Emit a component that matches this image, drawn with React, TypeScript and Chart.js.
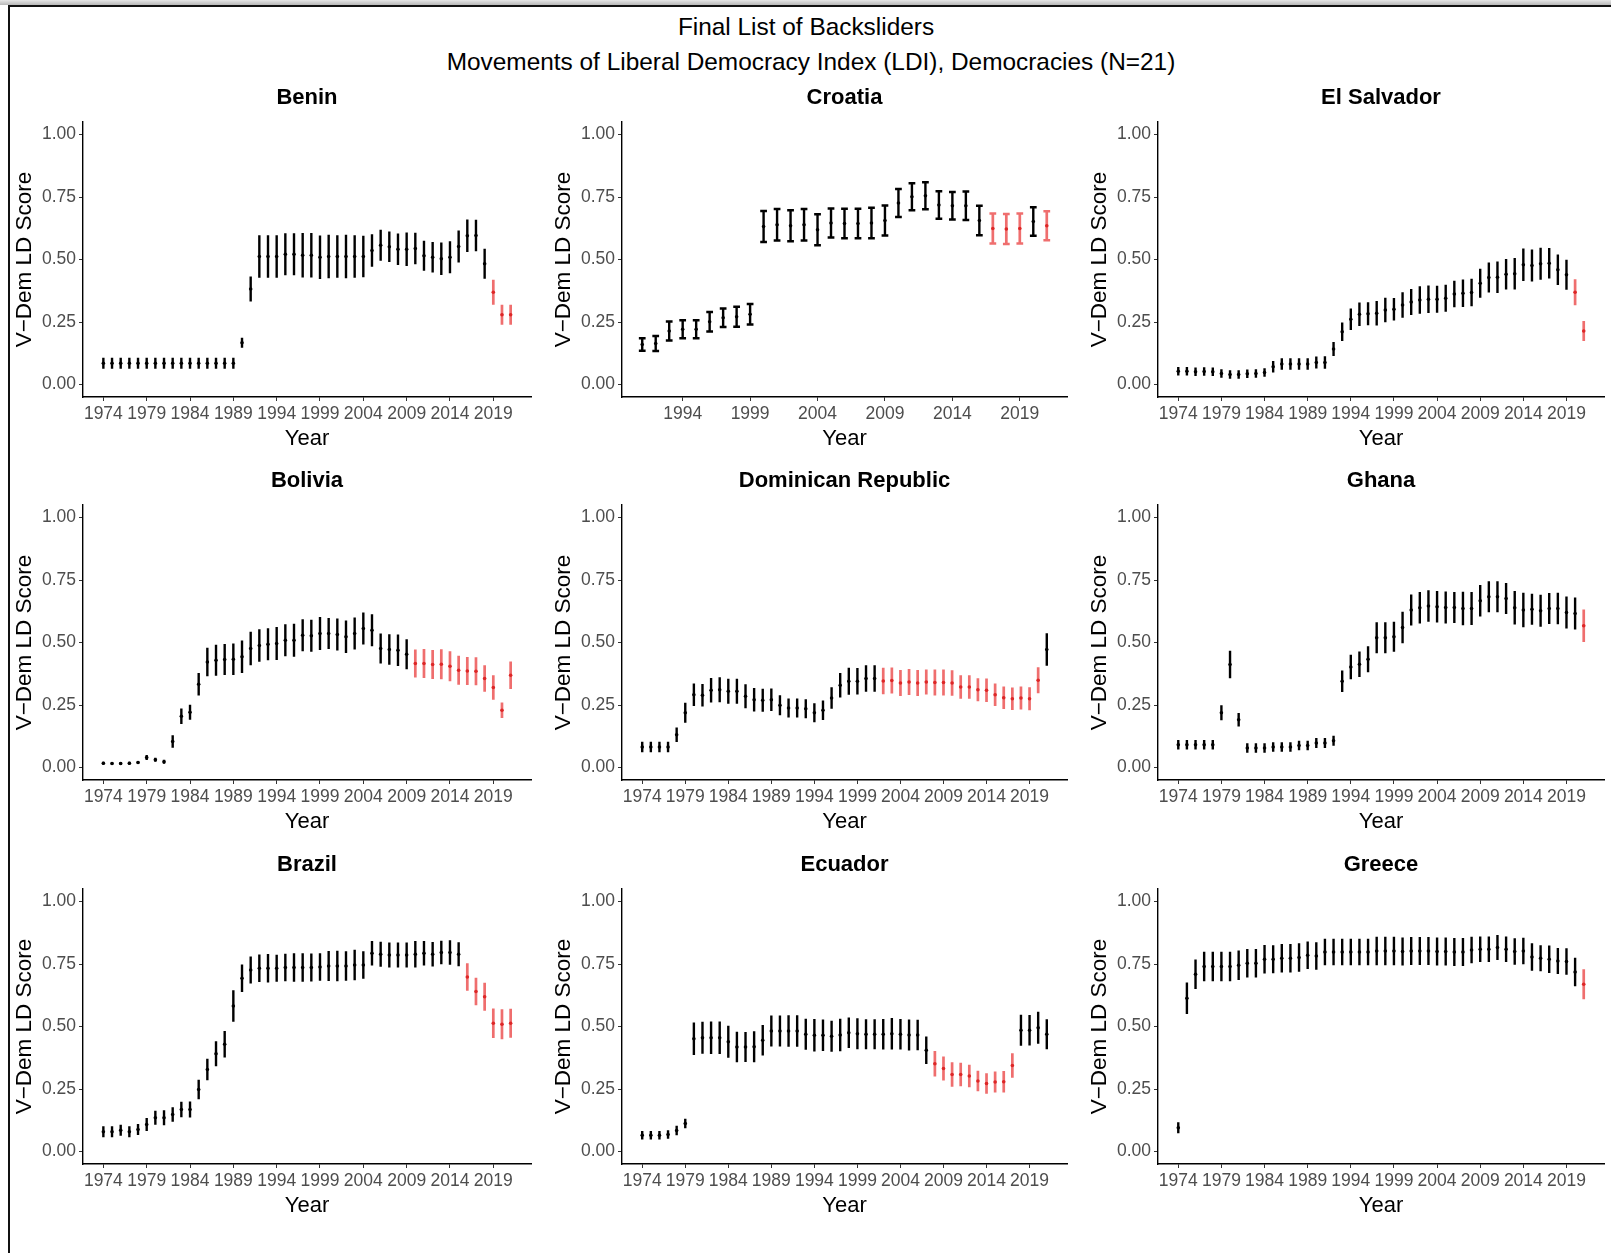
import React, { useEffect, useRef } from "react";
import { Chart, registerables } from "chart.js";
Chart.register(...registerables);

const FONT = "'Liberation Sans', Arial, Helvetica, sans-serif";

// ---- tick labels ----
const yearTicksFull = [1974, 1979, 1984, 1989, 1994, 1999, 2004, 2009, 2014, 2019];
const yearTicksCroatia = [1994, 1999, 2004, 2009, 2014, 2019];
const scoreTicks = [0, 0.25, 0.5, 0.75, 1.0];

// ---- data (LDI point estimate and half-width of interval) ----
const beninStart = 1974;
const beninMid = [0.085, 0.085, 0.085, 0.085, 0.085, 0.085, 0.085, 0.085, 0.085, 0.085, 0.085, 0.085, 0.085, 0.085, 0.085, 0.085,
  0.167, 0.382, 0.512, 0.512, 0.512, 0.521, 0.521, 0.517, 0.517, 0.509, 0.512, 0.512, 0.512, 0.512, 0.512,
  0.536, 0.557, 0.551, 0.541, 0.541, 0.544, 0.515, 0.509, 0.503, 0.509, 0.552, 0.595, 0.596, 0.483, 0.369, 0.279, 0.279];
const beninErr = [0.022, 0.022, 0.022, 0.022, 0.022, 0.022, 0.022, 0.022, 0.022, 0.022, 0.022, 0.022, 0.022, 0.022, 0.022, 0.022,
  0.02, 0.05, 0.085, 0.085, 0.085, 0.084, 0.084, 0.089, 0.089, 0.087, 0.087, 0.085, 0.087, 0.085, 0.083,
  0.065, 0.062, 0.061, 0.063, 0.067, 0.063, 0.06, 0.061, 0.065, 0.064, 0.064, 0.065, 0.063, 0.06, 0.05, 0.04, 0.04];
const beninRed = [2019, 2020, 2021];

const croatiaStart = 1991;
const croatiaMid = [0.160, 0.164, 0.214, 0.221, 0.221, 0.251, 0.267, 0.271, 0.281,
  0.632, 0.639, 0.635, 0.639, 0.619, 0.646, 0.644, 0.644, 0.646, 0.656,
  0.726, 0.751, 0.755, 0.718, 0.715, 0.715, 0.656, 0.624, 0.622, 0.624, 0.652, 0.635];
const croatiaErr = [0.025, 0.03, 0.038, 0.036, 0.036, 0.039, 0.037, 0.04, 0.041,
  0.062, 0.063, 0.062, 0.063, 0.062, 0.058, 0.059, 0.059, 0.061, 0.06,
  0.056, 0.054, 0.054, 0.055, 0.055, 0.057, 0.059, 0.06, 0.06, 0.06, 0.057, 0.058];
const croatiaRed = [2017, 2018, 2019, 2021];

const salvadorStart = 1974;
const salvadorMid = [0.053, 0.053, 0.051, 0.052, 0.051, 0.044, 0.04, 0.04, 0.043, 0.044,
  0.048, 0.071, 0.082, 0.082, 0.082, 0.082, 0.088, 0.088, 0.142, 0.211,
  0.261, 0.281, 0.283, 0.285, 0.298, 0.301, 0.318, 0.33, 0.338, 0.341,
  0.341, 0.345, 0.362, 0.365, 0.368, 0.405, 0.428, 0.429, 0.441, 0.443,
  0.479, 0.476, 0.483, 0.485, 0.459, 0.439, 0.369, 0.214];
const salvadorErr = [0.017, 0.017, 0.017, 0.017, 0.017, 0.017, 0.017, 0.017, 0.017, 0.017,
  0.017, 0.023, 0.023, 0.023, 0.023, 0.023, 0.024, 0.025, 0.028, 0.037,
  0.043, 0.047, 0.046, 0.049, 0.049, 0.045, 0.051, 0.052, 0.055, 0.055,
  0.054, 0.054, 0.053, 0.055, 0.055, 0.058, 0.06, 0.063, 0.061, 0.063,
  0.065, 0.064, 0.064, 0.061, 0.061, 0.06, 0.052, 0.04];
const salvadorRed = [2020, 2021];

const boliviaStart = 1974;
const boliviaMid = [0.017, 0.016, 0.016, 0.017, 0.02, 0.04, 0.031, 0.023, 0.104, 0.205,
  0.221, 0.333, 0.422, 0.429, 0.432, 0.433, 0.443, 0.476, 0.488, 0.493,
  0.496, 0.509, 0.509, 0.529, 0.527, 0.536, 0.536, 0.532, 0.523, 0.536,
  0.556, 0.549, 0.476, 0.472, 0.469, 0.453, 0.416, 0.416, 0.412, 0.413,
  0.405, 0.389, 0.386, 0.385, 0.356, 0.32, 0.229, 0.369];
const boliviaErr = [0.006, 0.006, 0.006, 0.006, 0.006, 0.01, 0.008, 0.008, 0.025, 0.031,
  0.03, 0.045, 0.057, 0.062, 0.062, 0.063, 0.065, 0.067, 0.065, 0.064,
  0.066, 0.064, 0.066, 0.064, 0.064, 0.066, 0.062, 0.064, 0.065, 0.064,
  0.064, 0.064, 0.06, 0.061, 0.063, 0.06, 0.056, 0.058, 0.058, 0.06,
  0.06, 0.058, 0.056, 0.056, 0.053, 0.049, 0.031, 0.055];
const boliviaRed = [2010, 2011, 2012, 2013, 2014, 2015, 2016, 2017, 2018, 2019, 2020, 2021];

const dominicanStart = 1974;
const dominicanMid = [0.082, 0.082, 0.082, 0.082, 0.131, 0.219, 0.291, 0.289, 0.309, 0.311,
  0.305, 0.305, 0.285, 0.271, 0.269, 0.271, 0.249, 0.238, 0.238, 0.235,
  0.219, 0.229, 0.278, 0.329, 0.345, 0.345, 0.356, 0.356, 0.346, 0.348,
  0.338, 0.342, 0.338, 0.342, 0.34, 0.34, 0.338, 0.322, 0.322, 0.311,
  0.309, 0.291, 0.279, 0.275, 0.278, 0.275, 0.349, 0.472];
const dominicanErr = [0.021, 0.021, 0.021, 0.021, 0.029, 0.04, 0.045, 0.045, 0.049, 0.05,
  0.05, 0.05, 0.048, 0.047, 0.046, 0.045, 0.04, 0.038, 0.038, 0.038,
  0.038, 0.039, 0.043, 0.049, 0.054, 0.053, 0.053, 0.053, 0.053, 0.052,
  0.052, 0.052, 0.052, 0.05, 0.052, 0.052, 0.051, 0.047, 0.047, 0.046,
  0.047, 0.045, 0.045, 0.045, 0.046, 0.046, 0.052, 0.065];
const dominicanRed = [2002, 2003, 2004, 2005, 2006, 2007, 2008, 2009, 2010, 2011,
  2012, 2013, 2014, 2015, 2016, 2017, 2018, 2019, 2020];

const ghanaStart = 1974;
const ghanaMid = [0.091, 0.091, 0.091, 0.091, 0.091, 0.219, 0.412, 0.191, 0.078, 0.078,
  0.078, 0.082, 0.082, 0.082, 0.088, 0.088, 0.098, 0.098, 0.107, 0.345,
  0.402, 0.413, 0.433, 0.519, 0.519, 0.523, 0.56, 0.63, 0.639, 0.646,
  0.643, 0.64, 0.64, 0.636, 0.636, 0.667, 0.683, 0.683, 0.676, 0.639,
  0.63, 0.633, 0.627, 0.636, 0.636, 0.62, 0.616, 0.567];
const ghanaErr = [0.019, 0.019, 0.019, 0.019, 0.019, 0.03, 0.055, 0.027, 0.019, 0.019,
  0.019, 0.019, 0.019, 0.019, 0.019, 0.019, 0.02, 0.02, 0.02, 0.043,
  0.049, 0.051, 0.052, 0.062, 0.062, 0.06, 0.063, 0.062, 0.063, 0.063,
  0.063, 0.064, 0.062, 0.067, 0.066, 0.063, 0.062, 0.062, 0.062, 0.067,
  0.069, 0.062, 0.064, 0.062, 0.063, 0.064, 0.064, 0.065];
const ghanaRed = [2021];

const brazilStart = 1974;
const brazilMid = [0.079, 0.079, 0.085, 0.079, 0.088, 0.108, 0.135, 0.135, 0.148, 0.168,
  0.168, 0.248, 0.328, 0.391, 0.429, 0.582, 0.693, 0.726, 0.733, 0.733,
  0.733, 0.736, 0.736, 0.736, 0.736, 0.738, 0.742, 0.742, 0.742, 0.746,
  0.746, 0.793, 0.789, 0.786, 0.786, 0.786, 0.789, 0.793, 0.789, 0.796,
  0.796, 0.789, 0.698, 0.64, 0.619, 0.513, 0.509, 0.513];
const brazilErr = [0.022, 0.022, 0.022, 0.022, 0.022, 0.026, 0.028, 0.03, 0.029, 0.031,
  0.032, 0.039, 0.043, 0.05, 0.053, 0.063, 0.055, 0.054, 0.055, 0.057,
  0.054, 0.055, 0.057, 0.057, 0.056, 0.055, 0.06, 0.061, 0.059, 0.061,
  0.055, 0.049, 0.05, 0.05, 0.05, 0.05, 0.053, 0.049, 0.049, 0.047,
  0.049, 0.048, 0.055, 0.055, 0.056, 0.059, 0.06, 0.058];
const brazilRed = [2016, 2017, 2018, 2019, 2020, 2021];

const ecuadorStart = 1974;
const ecuadorMid = [0.065, 0.065, 0.065, 0.068, 0.084, 0.112, 0.451, 0.455, 0.455, 0.455,
  0.439, 0.418, 0.418, 0.419, 0.445, 0.482, 0.482, 0.482, 0.482, 0.469,
  0.465, 0.465, 0.461, 0.466, 0.475, 0.471, 0.469, 0.469, 0.469, 0.471,
  0.469, 0.466, 0.466, 0.405, 0.351, 0.332, 0.308, 0.308, 0.302, 0.282,
  0.272, 0.278, 0.279, 0.344, 0.485, 0.485, 0.495, 0.469];
const ecuadorErr = [0.017, 0.017, 0.017, 0.017, 0.019, 0.019, 0.065, 0.064, 0.065, 0.065,
  0.064, 0.061, 0.06, 0.062, 0.061, 0.062, 0.062, 0.063, 0.063, 0.062,
  0.065, 0.063, 0.062, 0.065, 0.061, 0.062, 0.06, 0.06, 0.061, 0.063,
  0.061, 0.062, 0.061, 0.055, 0.051, 0.048, 0.049, 0.047, 0.045, 0.041,
  0.041, 0.042, 0.043, 0.049, 0.062, 0.061, 0.064, 0.06];
const ecuadorRed = [2008, 2009, 2010, 2011, 2012, 2013, 2014, 2015, 2016, 2017];

const greeceStart = 1974;
const greeceMid = [0.095, 0.613, 0.709, 0.74, 0.74, 0.74, 0.74, 0.745, 0.753, 0.753,
  0.769, 0.769, 0.773, 0.773, 0.776, 0.785, 0.782, 0.798, 0.798, 0.798,
  0.798, 0.798, 0.798, 0.802, 0.802, 0.802, 0.8, 0.802, 0.802, 0.802,
  0.8, 0.8, 0.798, 0.798, 0.806, 0.809, 0.809, 0.816, 0.809, 0.8,
  0.802, 0.778, 0.773, 0.769, 0.762, 0.76, 0.718, 0.669];
const greeceErr = [0.022, 0.063, 0.059, 0.059, 0.059, 0.059, 0.059, 0.059, 0.057, 0.057,
  0.057, 0.056, 0.057, 0.057, 0.057, 0.055, 0.055, 0.053, 0.053, 0.053,
  0.053, 0.053, 0.053, 0.057, 0.057, 0.057, 0.056, 0.056, 0.056, 0.056,
  0.056, 0.056, 0.056, 0.056, 0.053, 0.051, 0.051, 0.05, 0.051, 0.053,
  0.053, 0.055, 0.052, 0.055, 0.052, 0.053, 0.057, 0.06];
const greeceRed = [2021];

// ---- layout ----
const COL_LEFT = [83, 622, 1158];
const COL_W = [448, 445, 446];
const ROW_TOP = [122, 505, 889];
const PLOT_H = 275;
const PAD_TOP = 42;
const PAD_RIGHT = 4;
const Y_AXIS_W = 83;
const X_AXIS_H = 64;

const BLACK = "#000000";
const RED_BAR = "rgba(234, 62, 62, 0.75)";
const RED_PT = "#dd2626";

type PanelDef = {
  title: string; start: number; mid: number[]; err: number[]; red: number[];
  ticks: number[]; xMin: number; xMax: number; cap: number;
};

const panels: PanelDef[] = [
  { title: "Benin", start: beninStart, mid: beninMid, err: beninErr, red: beninRed, ticks: yearTicksFull, xMin: 1971.65, xMax: 2023.35, cap: 0 },
  { title: "Croatia", start: croatiaStart, mid: croatiaMid, err: croatiaErr, red: croatiaRed, ticks: yearTicksCroatia, xMin: 1989.5, xMax: 2022.5, cap: 0.25 },
  { title: "El Salvador", start: salvadorStart, mid: salvadorMid, err: salvadorErr, red: salvadorRed, ticks: yearTicksFull, xMin: 1971.65, xMax: 2023.35, cap: 0 },
  { title: "Bolivia", start: boliviaStart, mid: boliviaMid, err: boliviaErr, red: boliviaRed, ticks: yearTicksFull, xMin: 1971.65, xMax: 2023.35, cap: 0 },
  { title: "Dominican Republic", start: dominicanStart, mid: dominicanMid, err: dominicanErr, red: dominicanRed, ticks: yearTicksFull, xMin: 1971.65, xMax: 2023.35, cap: 0 },
  { title: "Ghana", start: ghanaStart, mid: ghanaMid, err: ghanaErr, red: ghanaRed, ticks: yearTicksFull, xMin: 1971.65, xMax: 2023.35, cap: 0 },
  { title: "Brazil", start: brazilStart, mid: brazilMid, err: brazilErr, red: brazilRed, ticks: yearTicksFull, xMin: 1971.65, xMax: 2023.35, cap: 0 },
  { title: "Ecuador", start: ecuadorStart, mid: ecuadorMid, err: ecuadorErr, red: ecuadorRed, ticks: yearTicksFull, xMin: 1971.65, xMax: 2023.35, cap: 0 },
  { title: "Greece", start: greeceStart, mid: greeceMid, err: greeceErr, red: greeceRed, ticks: yearTicksFull, xMin: 1971.65, xMax: 2023.35, cap: 0 },
];

const errBarPlugin = {
  id: "errbars",
  beforeDatasetsDraw(chart: any, _args: any, opts: any) {
    const { ctx, scales } = chart;
    const xs = scales.x, ys = scales.y;
    const mid: number[] = opts.mid, err: number[] = opts.err;
    ctx.save();
    ctx.lineCap = "butt";
    for (let i = 0; i < mid.length; i++) {
      const year = opts.start + i;
      const isRed = opts.red.includes(year);
      const x = xs.getPixelForValue(year);
      const yLo = ys.getPixelForValue(mid[i] - err[i]);
      const yHi = ys.getPixelForValue(mid[i] + err[i]);
      ctx.strokeStyle = isRed ? RED_BAR : BLACK;
      ctx.lineWidth = isRed ? 2.7 : 2.4;
      ctx.beginPath();
      ctx.moveTo(x, yLo);
      ctx.lineTo(x, yHi);
      if (opts.cap > 0) {
        const hw = xs.getPixelForValue(year + opts.cap) - x;
        ctx.moveTo(x - hw, yLo);
        ctx.lineTo(x + hw, yLo);
        ctx.moveTo(x - hw, yHi);
        ctx.lineTo(x + hw, yHi);
      }
      ctx.stroke();
    }
    ctx.restore();
  },
  afterDraw(chart: any, _args: any, opts: any) {
    const { ctx, chartArea } = chart;
    const cx = (chartArea.left + chartArea.right) / 2;
    const cy = (chartArea.top + chartArea.bottom) / 2;
    ctx.save();
    ctx.fillStyle = "#000";
    ctx.textAlign = "center";
    ctx.textBaseline = "middle";
    ctx.font = `bold 22px ${FONT}`;
    ctx.fillText(opts.title, cx, chartArea.top - 24);
    ctx.font = `22px ${FONT}`;
    ctx.fillText("Year", cx, chartArea.bottom + 42);
    ctx.translate(chartArea.left - 58, cy);
    ctx.rotate(-Math.PI / 2);
    ctx.font = `22.5px ${FONT}`;
    ctx.fillText("V\u2212Dem LD Score", 0, 0);
    ctx.restore();
  },
};

function Panel({ def, left, top, plotW }: { def: PanelDef; left: number; top: number; plotW: number }) {
  const ref = useRef<HTMLCanvasElement>(null);
  const width = Y_AXIS_W + plotW + PAD_RIGHT;
  const height = PAD_TOP + PLOT_H + X_AXIS_H;
  useEffect(() => {
    if (!ref.current) return;
    const years = def.mid.map((_, i) => def.start + i);
    const pts = def.mid.map((v, i) => ({ x: years[i], y: v }));
    const ptColors = years.map((y) => (def.red.includes(y) ? RED_PT : BLACK));
    const chart = new Chart(ref.current, {
      type: "scatter",
      data: {
        datasets: [{
          data: pts,
          pointRadius: 1.8,
          pointBorderWidth: 0,
          pointBackgroundColor: ptColors,
          pointBorderColor: ptColors,
        }],
      },
      options: {
        responsive: false,
        animation: false,
        devicePixelRatio: 1,
        events: [],
        layout: { padding: { top: PAD_TOP, right: PAD_RIGHT, left: 0, bottom: 0 } },
        plugins: {
          legend: { display: false },
          tooltip: { enabled: false },
          title: { display: false },
          errbars: { title: def.title, start: def.start, mid: def.mid, err: def.err, red: def.red, cap: def.cap },
        } as any,
        scales: {
          x: {
            type: "linear",
            min: def.xMin,
            max: def.xMax,
            afterFit: (s: any) => { s.height = X_AXIS_H; },
            afterBuildTicks: (s: any) => { s.ticks = def.ticks.map((v) => ({ value: v })); },
            ticks: {
              callback: (v: any) => String(v),
              color: "#4D4D4D",
              font: { size: 17.5, family: FONT },
              padding: 3,
              maxRotation: 0,
              minRotation: 0,
              autoSkip: false,
            },
            grid: { display: true, drawOnChartArea: false, drawTicks: true, tickLength: 4, color: "#333333", lineWidth: 1 },
            border: { display: true, color: "#000000", width: 1.4 },
          },
          y: {
            type: "linear",
            min: -0.05,
            max: 1.05,
            afterFit: (s: any) => { s.width = Y_AXIS_W; },
            afterBuildTicks: (s: any) => { s.ticks = scoreTicks.map((v) => ({ value: v })); },
            ticks: {
              callback: (v: any) => Number(v).toFixed(2),
              color: "#4D4D4D",
              font: { size: 17.5, family: FONT },
              padding: 3,
              autoSkip: false,
            },
            grid: { display: true, drawOnChartArea: false, drawTicks: true, tickLength: 4, color: "#333333", lineWidth: 1 },
            border: { display: true, color: "#000000", width: 1.4 },
          },
        },
      },
      plugins: [errBarPlugin],
    } as any);
    return () => chart.destroy();
  }, [def]);
  return (
    <canvas
      ref={ref}
      width={width}
      height={height}
      style={{ position: "absolute", left, top, width, height }}
    />
  );
}

export default function App() {
  return (
    <div style={{ position: "absolute", left: 0, top: 0, width: 1611, height: 1253, background: "#fff", overflow: "hidden", fontFamily: FONT }}>
      <div style={{ position: "absolute", left: 0, top: 0, width: 1611, height: 5, background: "linear-gradient(#e6e6e6, #b8b8b8)" }} />
      <div style={{ position: "absolute", left: 8, top: 5, width: 1603, height: 2, background: "#111" }} />
      <div style={{ position: "absolute", left: 8, top: 5, width: 2, height: 1248, background: "#111" }} />
      <div style={{ position: "absolute", left: 406, top: 13, width: 800, height: 28, lineHeight: "28px", textAlign: "center", fontSize: 24.4, color: "#000" }}>
        Final List of Backsliders
      </div>
      <div style={{ position: "absolute", left: 411, top: 48, width: 800, height: 28, lineHeight: "28px", textAlign: "center", fontSize: 24.4, color: "#000" }}>
        Movements of Liberal Democracy Index (LDI), Democracies (N=21)
      </div>
      {panels.map((p, i) => {
        const c = i % 3;
        const r = Math.floor(i / 3);
        return (
          <Panel
            key={p.title}
            def={p}
            left={COL_LEFT[c] - Y_AXIS_W}
            top={ROW_TOP[r] - PAD_TOP}
            plotW={COL_W[c]}
          />
        );
      })}
    </div>
  );
}
